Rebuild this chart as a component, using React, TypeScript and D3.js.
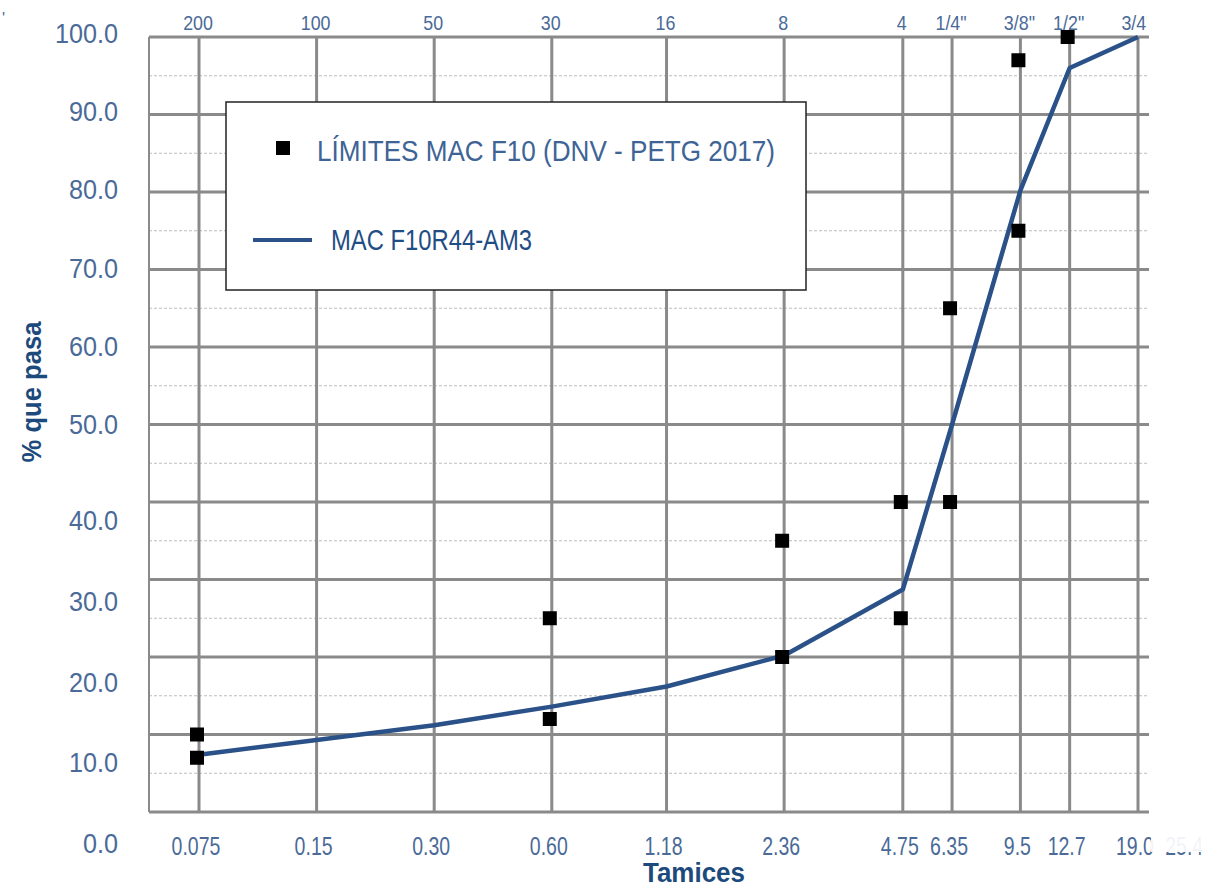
import React from "react";
import * as d3 from "d3";

// Sieve sizes (mm) and labels
const sizes = [0.075, 0.15, 0.3, 0.6, 1.18, 2.36, 4.75, 6.35, 9.5, 12.7, 19.0, 25.4];
const sizeLabels = ["0.075", "0.15", "0.30", "0.60", "1.18", "2.36", "4.75", "6.35", "9.5", "12.7", "19.0", "25.4"];
const sieveLabels = ["200", "100", "50", "30", "16", "8", "4", "1/4\"", "3/8\"", "1/2\"", "3/4\"", "1\""];

// Mix gradation: MAC F10R44-AM3
const mixSizes = [0.075, 0.15, 0.3, 0.6, 1.18, 2.36, 4.75, 6.35, 9.5, 12.7, 19.0];
const mixPassing = [7.4, 9.3, 11.2, 13.6, 16.2, 20.2, 28.7, 50.0, 80.2, 96.0, 100];

// Spec limits: LÍMITES MAC F10 (DNV - PETG 2017)
const limitSizes = [0.075, 0.075, 0.6, 0.6, 2.36, 2.36, 4.75, 4.75, 6.35, 6.35, 9.5, 9.5, 12.7];
const limitPassing = [7, 10, 12, 25, 20, 35, 25, 40, 40, 65, 75, 97, 100];

const yTicks = [0, 10, 20, 30, 40, 50, 60, 70, 80, 90, 100];
const yMinor = [5, 15, 25, 35, 45, 55, 65, 75, 85, 95];
const yLabels = ["0.0", "10.0", "20.0", "30.0", "40.0", "50.0", "60.0", "70.0", "80.0", "90.0", "100.0"];

const FONT = "'Liberation Sans', Arial, sans-serif";
const LABEL_COLOR = "#4a6a98";
const TITLE_COLOR = "#1d4a7c";
const LINE_COLOR = "#2b5189";
const GRID = "#8a8a8a";

export default function App() {
  const left = 149, right = 1149, top = 37, bottom = 812;
  const x = d3.scaleLog().domain([0.075, 19]).range([199, 1138]);
  const y = d3.scaleLinear().domain([0, 100]).range([bottom, top]);
  // tick labels in the source image are drawn slightly off the grid
  const yLab = d3.scaleLinear().domain([0, 40, 50, 100]).range([843, 520, 424, 33]);

  const line = d3
    .line<number>()
    .x((_, i) => x(mixSizes[i]))
    .y((d) => y(d));

  const sq = 14;

  return (
    <svg
      width={1220}
      height={888}
      style={{ position: "absolute", left: 0, top: 0, background: "#fff" }}
      fontFamily={FONT}
    >
      <defs>
        <clipPath id="plotclip">
          <rect x={0} y={0} width={right - 2} height={888} />
        </clipPath>
      </defs>
      <rect x={0} y={0} width={1220} height={888} fill="#fff" />
      <text x={2} y={24} fontSize={16} fill={LABEL_COLOR}>'</text>

      {/* minor dashed grid */}
      {yMinor.map((v) => (
        <line key={"m" + v} x1={left} x2={right} y1={y(v)} y2={y(v)} stroke="#bdbdbd" strokeWidth={1} strokeDasharray="3,2" />
      ))}
      {/* major horizontal grid */}
      {yTicks.map((v) => (
        <line key={"h" + v} x1={left} x2={right} y1={y(v)} y2={y(v)} stroke={GRID} strokeWidth={3} />
      ))}
      {/* vertical grid */}
      {sizes
        .filter((s) => x(s) <= right)
        .map((s) => (
          <line key={"v" + s} x1={x(s)} x2={x(s)} y1={top} y2={bottom} stroke={GRID} strokeWidth={3} />
        ))}
      <line x1={left} x2={left} y1={top} y2={bottom} stroke={GRID} strokeWidth={2} />

      {/* y labels */}
      {yTicks.map((v, i) => (
        <text
          key={"yl" + v}
          transform={`translate(118,${yLab(v)}) scale(0.9,1)`}
          dy="0.36em"
          textAnchor="end"
          fontSize={28}
          fill={LABEL_COLOR}
        >
          {yLabels[i]}
        </text>
      ))}

      {/* top sieve labels */}
      <g clipPath="url(#plotclip)">
        {sizes.map((s, i) => (
          <text
            key={"t" + s}
            transform={`translate(${x(s) - 1},30) scale(0.85,1)`}
            textAnchor="middle"
            fontSize={21}
            fill={LABEL_COLOR}
          >
            {sieveLabels[i]}
          </text>
        ))}
      </g>

      {/* bottom size labels */}
      {sizes.map((s, i) => (
        <text
          key={"b" + s}
          transform={`translate(${x(s) - 3},855) scale(0.75,1)`}
          textAnchor="middle"
          fontSize={26}
          fill={LABEL_COLOR}
        >
          {sizeLabels[i]}
        </text>
      ))}
      <rect x={1151} y={833} width={69} height={19} fill="#fff" opacity={0.92} />

      {/* mix line */}
      <path d={line(mixPassing) || ""} fill="none" stroke={LINE_COLOR} strokeWidth={4.5} strokeLinejoin="round" />

      {/* limit markers */}
      {limitPassing.map((v, i) => (
        <rect
          key={"s" + i}
          x={x(limitSizes[i]) - 2 - sq / 2}
          y={y(v) - sq / 2}
          width={sq}
          height={sq}
          fill="#000"
        />
      ))}

      {/* legend */}
      <rect x={226} y={102} width={580} height={188} fill="#fff" stroke="#222" strokeWidth={1.5} />
      <rect x={276} y={141} width={14} height={14} fill="#000" />
      <text x={317} y={161} fontSize={29} textLength={458} lengthAdjust="spacingAndGlyphs" fill="#3e6496">
        LÍMITES MAC F10 (DNV - PETG 2017)
      </text>
      <line x1={253} x2={312} y1={240} y2={240} stroke={LINE_COLOR} strokeWidth={4} />
      <text x={331} y={250} fontSize={29} textLength={201} lengthAdjust="spacingAndGlyphs" fill="#1f4d85">
        MAC F10R44-AM3
      </text>

      {/* axis titles */}
      <text
        transform={`translate(41,392) rotate(-90)`}
        textAnchor="middle"
        fontSize={28}
        fontWeight="bold"
        textLength={141}
        lengthAdjust="spacingAndGlyphs"
        fill={TITLE_COLOR}
      >
        % que pasa
      </text>
      <text
        x={694}
        y={882}
        textAnchor="middle"
        fontSize={28}
        fontWeight="bold"
        textLength={102}
        lengthAdjust="spacingAndGlyphs"
        fill={TITLE_COLOR}
      >
        Tamices
      </text>
    </svg>
  );
}
